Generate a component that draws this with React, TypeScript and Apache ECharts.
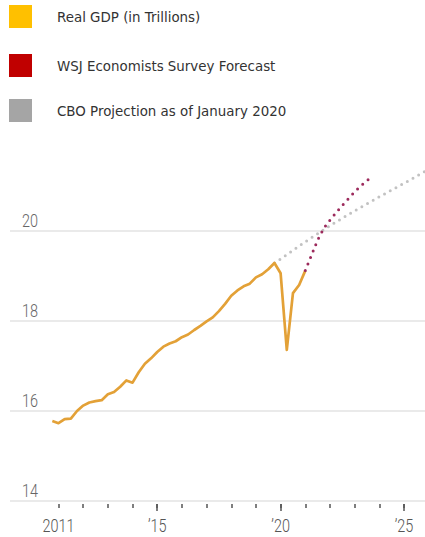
import React, { useEffect, useRef } from "react";
import * as echarts from "echarts";

// Real GDP, quarterly (trillions), 2010 Q4 – 2021 Q1
const gdpStartYear = 2010.75;
const gdpValues = [
  15.78, 15.73, 15.82, 15.83, 16.0,
  16.12, 16.19, 16.22, 16.24,
  16.37, 16.42, 16.54, 16.68,
  16.63, 16.86, 17.05, 17.17,
  17.31, 17.43, 17.5, 17.55,
  17.64, 17.7, 17.8, 17.89,
  17.99, 18.08, 18.22, 18.38,
  18.56, 18.68, 18.77, 18.83,
  18.97, 19.04, 19.15, 19.29,
  19.06, 17.36, 18.62, 18.8,
  19.12,
];

// WSJ Economists Survey forecast, quarterly from 2021 Q1
const wsjStartYear = 2021.0;
const wsjValues = [19.12, 19.46, 19.8, 20.06, 20.24, 20.41, 20.57, 20.72, 20.87, 21.0, 21.12, 21.22];

// CBO projection as of January 2020
const cboYears = [2019.75, 2020, 2021, 2022, 2023, 2024, 2025, 2026];
const cboValues = [19.29, 19.38, 19.76, 20.12, 20.45, 20.76, 21.06, 21.37];

const tickYears = [2011, 2012, 2013, 2014, 2015, 2016, 2017, 2018, 2019, 2020, 2021, 2022, 2023, 2024, 2025];
const majorTickYears = [2015, 2020, 2025];
const labelYears = [2011, 2015, 2020, 2025];
const labelTexts = ["2011", "\u201915", "\u201920", "\u201925"];
const yTicks = [14, 16, 18, 20];
const yTickLabels = ["14", "16", "18", "20"];

const legendNames = ["Real GDP (in Trillions)", "WSJ Economists Survey Forecast", "CBO Projection as of January 2020"];
const legendColors = ["#FFC000", "#C00000", "#A5A5A5"];

const quarterly = (start: number, vals: number[]) => vals.map((v, i) => [start + i * 0.25, v]);

export default function App() {
  const ref = useRef<HTMLDivElement>(null);
  useEffect(() => {
    if (!ref.current) return;
    const chart = echarts.init(ref.current, undefined, { renderer: "svg" });
    const axisFont = "Roboto, 'Liberation Sans', sans-serif";
    const legendTops = [5, 54, 99];
    const graphic: any[] = [];
    legendNames.forEach((name, i) => {
      graphic.push({
        type: "rect",
        id: "lr" + i,
        left: 9,
        top: legendTops[i],
        shape: { width: 23, height: 23 },
        style: { fill: legendColors[i] },
      });
      graphic.push({
        type: "text",
        id: "lt" + i,
        x: 57,
        y: legendTops[i] + 12.5,
        style: {
          text: name,
          fill: "#333",
          font: "13.4px 'DejaVu Sans', Verdana, sans-serif",
          verticalAlign: "middle",
        },
      });
    });

    const xMin = 2009.035;
    const xMax = 2025.85;

    chart.setOption({
      animation: false,
      graphic,
      grid: { left: 10, right: 0, top: 141, bottom: 36 },
      xAxis: [
        {
          type: "value",
          min: xMin,
          max: xMax,
          offset: 3,
          axisLine: { show: false },
          splitLine: { show: false },
          axisTick: {
            show: true,
            customValues: tickYears,
            length: 4,
            lineStyle: { color: "#555", width: 1.5 },
          },
          axisLabel: { show: false },
        },
        {
          type: "value",
          min: xMin,
          max: xMax,
          offset: 3,
          position: "bottom",
          axisLine: { show: false },
          splitLine: { show: false },
          axisLabel: { show: false },
          axisTick: {
            show: true,
            customValues: majorTickYears,
            length: 7,
            lineStyle: { color: "#555", width: 1.5 },
          },
        },
      ],
      yAxis: {
        type: "value",
        min: 14,
        max: 22,
        interval: 2,
        axisLine: { show: false },
        axisTick: { show: false },
        splitLine: { show: true, showMaxLine: false, lineStyle: { color: "#e3e3e3", width: 1.5 } },
        axisLabel: { show: false },
      },
      series: [
        {
          name: "CBO",
          type: "line",
          data: cboYears.map((y, i) => [y, cboValues[i]]),
          showSymbol: false,
          lineStyle: { color: "#c2c2c2", width: 3, type: [0, 6.5], cap: "round" },
          z: 1,
        },
        {
          name: "GDP",
          type: "line",
          data: quarterly(gdpStartYear, gdpValues),
          showSymbol: false,
          lineStyle: { color: "#E3A137", width: 2.7, join: "round" },
          z: 2,
        },
        {
          name: "WSJ",
          type: "line",
          data: quarterly(wsjStartYear, wsjValues),
          showSymbol: false,
          lineStyle: { color: "#9c2a5c", width: 3, type: [0, 7], cap: "round" },
          z: 3,
        },
      ],
    });

    // Narrow axis labels positioned through the chart's own scales
    const baseY = chart.convertToPixel({ yAxisIndex: 0 }, 14) as number;
    const labels: any[] = [];
    labelYears.forEach((yr, i) => {
      const px = chart.convertToPixel({ xAxisIndex: 0 }, yr) as number;
      labels.push({
        type: "text",
        id: "xl" + i,
        x: px,
        y: baseY + 15,
        scaleX: 0.76,
        style: {
          text: labelTexts[i],
          fill: "#555",
          font: "300 19px " + axisFont,
          align: "center",
          verticalAlign: "top",
        },
      });
    });
    yTicks.forEach((v, i) => {
      const py = chart.convertToPixel({ yAxisIndex: 0 }, v) as number;
      labels.push({
        type: "text",
        id: "yl" + i,
        x: 22,
        y: py - 1,
        scaleX: 0.76,
        style: {
          text: yTickLabels[i],
          fill: "#666",
          font: "300 19px " + axisFont,
          align: "left",
          verticalAlign: "bottom",
        },
      });
    });
    chart.setOption({ graphic: [...graphic, ...labels] });
    return () => chart.dispose();
  }, []);
  return (
    <div
      ref={ref}
      style={{ position: "fixed", left: 0, top: 0, width: 425, height: 537, background: "#fff" }}
    />
  );
}
